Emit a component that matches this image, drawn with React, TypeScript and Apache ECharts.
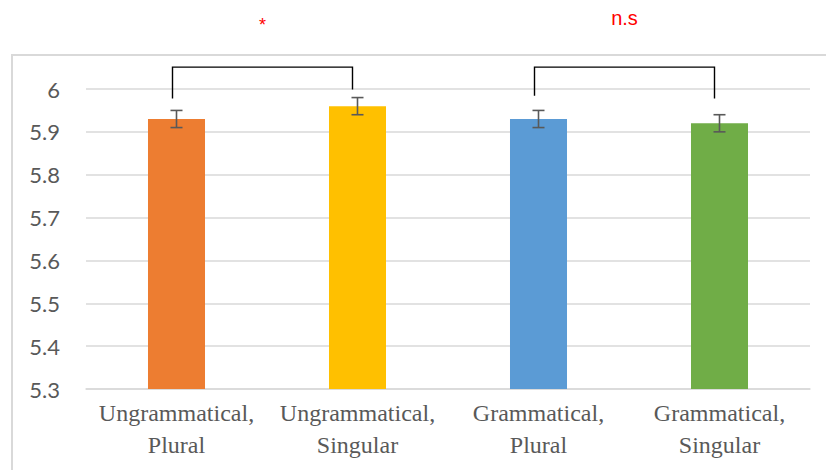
import React, { useEffect, useRef } from "react";
import * as echarts from "echarts";

const categories = [
  "Ungrammatical,\nPlural",
  "Ungrammatical,\nSingular",
  "Grammatical,\nPlural",
  "Grammatical,\nSingular",
];
const means = [5.93, 5.96, 5.93, 5.92];
const errors = [0.02, 0.02, 0.02, 0.02];
const barColors = ["#ED7D31", "#FFC000", "#5B9BD5", "#70AD47"];

const yMin = 5.3;
const yMax = 6;
const yStep = 0.1;

// Significance brackets (category indices and value-space heights)
const bracketStart = [0, 2];
const bracketEnd = [1, 3];
const bracketStartLow = [5.978, 5.984];
const bracketEndLow = [5.999, 5.978];
const bracketTop = [6.051, 6.051];
const bracketLabels = ["*", "n.s"];

export default function App() {
  const ref = useRef<HTMLDivElement>(null);

  useEffect(() => {
    if (!ref.current) return;
    const chart = echarts.init(ref.current, undefined, { renderer: "svg" });

    const errorData = means.map((m, i) => [i, m - errors[i], m + errors[i]]);
    const bracketData = bracketStart.map((s, i) => [
      s,
      bracketEnd[i],
      bracketStartLow[i],
      bracketEndLow[i],
      bracketTop[i],
    ]);

    chart.setOption({
      animation: false,
      graphic: [
        {
          type: "rect",
          shape: { x: 12, y: 55, width: 840, height: 440 },
          style: { fill: "none", stroke: "#d9d9d9", lineWidth: 2 },
          silent: true,
          z: -10,
        },
      ],
      grid: { left: 86, right: 16, top: 89, bottom: 81 },
      xAxis: {
        type: "category",
        data: categories,
        axisLine: { show: true, lineStyle: { color: "#d9d9d9", width: 1.5 } },
        axisTick: { show: false },
        axisLabel: {
          fontFamily: "Liberation Serif",
          fontSize: 24,
          lineHeight: 32,
          color: "#595959",
          margin: 8,
          interval: 0,
        },
      },
      yAxis: {
        type: "value",
        min: yMin,
        max: yMax,
        interval: yStep,
        axisLine: { show: false },
        axisTick: { show: false },
        splitLine: { lineStyle: { color: "#d9d9d9", width: 1.5 } },
        axisLabel: {
          fontFamily: "Lato",
          fontSize: 22,
          color: "#595959",
          margin: 26,
          formatter: (v: number) => String(+v.toFixed(1)),
        },
      },
      series: [
        {
          type: "bar",
          data: means.map((m, i) => ({ value: m, itemStyle: { color: barColors[i] } })),
          barWidth: "31.5%",
          z: 2,
        },
        {
          type: "custom",
          data: errorData,
          clip: false,
          z: 3,
          renderItem: (params: any, api: any) => {
            const x = api.value(0);
            const lo = api.coord([x, api.value(1)]);
            const hi = api.coord([x, api.value(2)]);
            const half = 6;
            const style = { stroke: "#595959", lineWidth: 1.6, fill: "none" };
            return {
              type: "group",
              children: [
                { type: "line", shape: { x1: lo[0], y1: lo[1], x2: hi[0], y2: hi[1] }, style },
                { type: "line", shape: { x1: lo[0] - half, y1: lo[1], x2: lo[0] + half, y2: lo[1] }, style },
                { type: "line", shape: { x1: hi[0] - half, y1: hi[1], x2: hi[0] + half, y2: hi[1] }, style },
              ],
            };
          },
        },
        {
          type: "custom",
          data: bracketData,
          clip: false,
          z: 4,
          renderItem: (params: any, api: any) => {
            const i = params.dataIndex;
            const s = api.value(0);
            const e = api.value(1);
            const p1 = api.coord([s, api.value(2)]);
            const p2 = api.coord([s, api.value(4)]);
            const p3 = api.coord([e, api.value(4)]);
            const p4 = api.coord([e, api.value(3)]);
            const dxs = -4;
            const dxe = -5;
            const label = bracketLabels[i];
            const midX = (p2[0] + dxs + p3[0] + dxe) / 2;
            const nudge = label === "*" ? 7 : 0;
            return {
              type: "group",
              children: [
                {
                  type: "polyline",
                  shape: {
                    points: [
                      [p1[0] + dxs, p1[1]],
                      [p2[0] + dxs, p2[1]],
                      [p3[0] + dxe, p3[1]],
                      [p4[0] + dxe, p4[1]],
                    ],
                  },
                  style: { stroke: "#000000", lineWidth: 1.4, fill: "none" },
                },
                {
                  type: "text",
                  x: midX,
                  y: p2[1] - 49 + nudge,
                  style: {
                    text: label,
                    fill: "#ff0000",
                    font: label === "*" ? "18px 'Liberation Sans'" : "20px 'Liberation Sans'",
                    align: "center",
                    verticalAlign: "middle",
                  },
                },
              ],
            };
          },
        },
      ],
    });

    return () => chart.dispose();
  }, []);

  return (
    <div
      ref={ref}
      style={{ position: "absolute", left: 0, top: 0, width: 826, height: 470 }}
    />
  );
}
